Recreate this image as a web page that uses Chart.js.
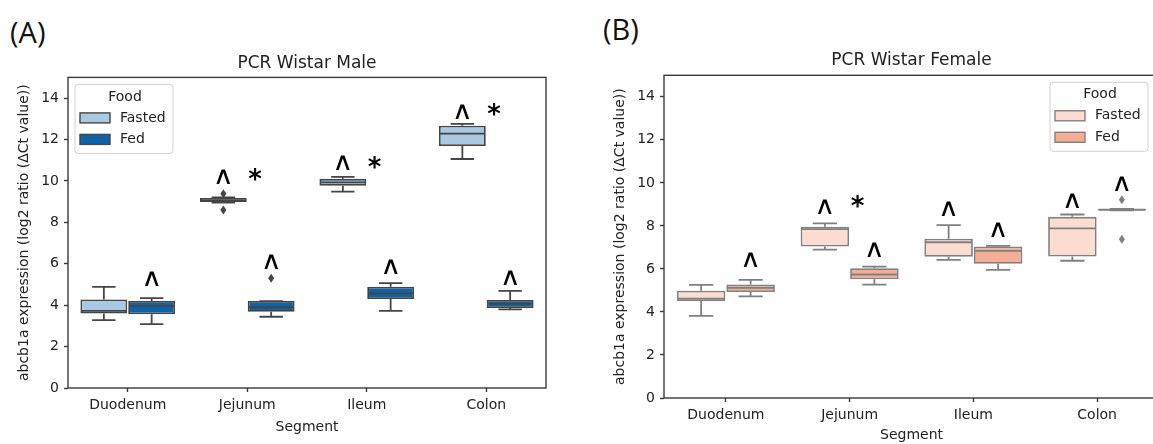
<!DOCTYPE html>
<html>
<head>
<meta charset="utf-8">
<script src="https://cdn.jsdelivr.net/npm/chart.js@4.4.1/dist/chart.umd.min.js"></script>
<style>
  html, body { margin: 0; padding: 0; width: 1153px; height: 444px; overflow: hidden; background: #fff; }
  .panel-label { position: absolute; font-family: 'Open Sans', sans-serif; font-size: 29px; color: #111; line-height: 1; }
  canvas { position: absolute; top: 0; }
</style>
</head>
<body>
<div class="panel-label" style="left:10px;top:17px">(A)</div>
<div class="panel-label" style="left:603px;top:14px">(B)</div>
<canvas id="maleChart" width="576" height="444" style="left:0"></canvas>
<canvas id="femaleChart" width="600" height="444" style="left:576px"></canvas>
<script>
// Категории, группы и деления оси
var segments = ['Duodenum', 'Jejunum', 'Ileum', 'Colon'];
var foodGroups = ['Fasted', 'Fed'];
var yTicks = [0, 2, 4, 6, 8, 10, 12, 14];

// Самцы: [нижний ус, Q1, медиана, Q3, верхний ус]
var maleFasted = [[3.28, 3.6, 3.72, 4.28, 4.88], [8.95, 8.98, 9.06, 9.18, 9.2], [9.48, 9.77, 9.93, 10.1, 10.2], [11.06, 11.69, 12.28, 12.67, 12.76]];
var maleFed = [[3.08, 3.56, 3.97, 4.2, 4.34], [3.44, 3.68, 3.9, 4.2, 4.2], [3.72, 4.3, 4.57, 4.89, 5.06], [3.8, 3.86, 4.06, 4.25, 4.69]];
var maleFastedOut = [[], [9.38, 8.6], [], []];
var maleFedOut = [[], [5.3], [], []];
var maleCaretFasted = [null, 10.2, 10.9, 13.35];
var maleCaretFed = [5.3, 6.1, 5.86, 5.33];
var maleStar = [null, 10.3, 10.9, 13.45];

// Самки
var femaleFasted = [[3.82, 4.51, 4.62, 4.99, 5.26], [6.9, 7.04, 7.85, 7.96, 8.12], [6.42, 6.57, 7.24, 7.4, 8.04], [6.38, 6.58, 7.88, 8.42, 8.53]];
var femaleFed = [[4.72, 4.93, 5.12, 5.27, 5.49], [5.27, 5.52, 5.74, 6.03, 6.11], [5.96, 6.24, 6.84, 7.04, 7.07], [8.72, 8.72, 8.75, 8.79, 8.79]];
var femaleFastedOut = [[], [], [], []];
var femaleFedOut = [[], [], [], [9.21, 7.38]];
var femaleCaretFasted = [null, 8.9, 8.82, 9.2];
var femaleCaretFed = [6.42, 6.88, 7.81, 9.98];
var femaleStar = [null, 9.13, null, null];

var FONT = "'DejaVu Sans', sans-serif";
var TEXT_COLOR = '#222';

// Рисует символ так, чтобы центр глифа совпал с точкой (можно растянуть по ширине)
function drawGlyph(ctx, text, x, y, font, stretch) {
  ctx.save();
  ctx.font = font;
  var m = ctx.measureText(text);
  ctx.textAlign = 'center';
  ctx.textBaseline = 'alphabetic';
  ctx.translate(x, y);
  ctx.scale(stretch || 1, 1);
  ctx.fillText(text, 0, (m.actualBoundingBoxAscent - m.actualBoundingBoxDescent) / 2);
  ctx.restore();
}

// Усы, медианы и выбросы поверх столбиков
var boxPlugin = {
  id: 'boxParts',
  afterDatasetsDraw: function(chart, args, opts) {
    var ctx = chart.ctx;
    var y = chart.scales.y;
    chart.data.datasets.forEach(function(ds, d) {
      var meta = chart.getDatasetMeta(d);
      ds.stats.forEach(function(s, i) {
        var bar = meta.data[i];
        var half = bar.width / 2;
        var yLow = y.getPixelForValue(s[0]);
        var yQ1 = y.getPixelForValue(s[1]);
        var yMed = y.getPixelForValue(s[2]);
        var yQ3 = y.getPixelForValue(s[3]);
        var yHigh = y.getPixelForValue(s[4]);
        ctx.save();
        ctx.strokeStyle = opts.edge;
        ctx.lineWidth = 1.8;
        ctx.beginPath();
        ctx.moveTo(bar.x, yQ1); ctx.lineTo(bar.x, yLow);
        ctx.moveTo(bar.x, yQ3); ctx.lineTo(bar.x, yHigh);
        ctx.moveTo(bar.x - half / 2, yLow); ctx.lineTo(bar.x + half / 2, yLow);
        ctx.moveTo(bar.x - half / 2, yHigh); ctx.lineTo(bar.x + half / 2, yHigh);
        ctx.moveTo(bar.x - half + 1, yMed); ctx.lineTo(bar.x + half - 1, yMed);
        ctx.stroke();
        // Выбросы ромбиками
        ctx.fillStyle = opts.edge;
        ds.outliers[i].forEach(function(v) {
          var py = y.getPixelForValue(v);
          ctx.beginPath();
          ctx.moveTo(bar.x, py - 4.5);
          ctx.lineTo(bar.x + 3, py);
          ctx.lineTo(bar.x, py + 4.5);
          ctx.lineTo(bar.x - 3, py);
          ctx.closePath();
          ctx.fill();
        });
        ctx.restore();
      });
    });
  }
};

// Рамка, значки значимости и легенда
var marksPlugin = {
  id: 'marks',
  afterDraw: function(chart, args, opts) {
    var ctx = chart.ctx;
    var area = chart.chartArea;
    var x = chart.scales.x;
    var y = chart.scales.y;
    ctx.save();
    ctx.strokeStyle = '#3a3a3a';
    ctx.lineWidth = 1.4;
    ctx.strokeRect(area.left, area.top, area.right - area.left, area.bottom - area.top);

    ctx.fillStyle = '#000';
    chart.data.datasets.forEach(function(ds, d) {
      var meta = chart.getDatasetMeta(d);
      ds.carets.forEach(function(v, i) {
        if (v === null) return;
        drawGlyph(ctx, '\u2227', meta.data[i].x, y.getPixelForValue(v), '25px ' + FONT, 1.15);
      });
    });
    var catWidth = x.width / segments.length;
    opts.stars.forEach(function(v, i) {
      if (v === null) return;
      drawGlyph(ctx, '*', x.getPixelForValue(i) + catWidth * 0.065, y.getPixelForValue(v), 'bold 26px ' + FONT, 1);
    });

    // Легенда
    var w = 98, h = 69;
    var left = opts.legendAlign === 'left' ? area.left + 7 : area.right - 11 - w;
    var top = area.top + 7;
    ctx.fillStyle = 'rgba(255,255,255,0.8)';
    ctx.strokeStyle = '#d0d0d0';
    ctx.lineWidth = 1;
    ctx.beginPath();
    ctx.roundRect(left, top, w, h, 3);
    ctx.fill();
    ctx.stroke();
    ctx.fillStyle = TEXT_COLOR;
    ctx.font = '14px ' + FONT;
    ctx.textAlign = 'center';
    ctx.textBaseline = 'middle';
    ctx.fillText('Food', left + 50, top + 12.5);
    chart.data.datasets.forEach(function(ds, d) {
      var cy = top + 33.5 + d * 21.5;
      ctx.fillStyle = ds.backgroundColor;
      ctx.strokeStyle = opts.edge;
      ctx.lineWidth = 1.4;
      ctx.fillRect(left + 5, cy - 5, 30, 10);
      ctx.strokeRect(left + 5, cy - 5, 30, 10);
      ctx.fillStyle = TEXT_COLOR;
      ctx.textAlign = 'left';
      ctx.fillText(ds.label, left + 45, cy);
    });
    ctx.restore();
  }
};

function buildDataset(label, stats, outliers, carets, color, edge) {
  return {
    label: label,
    data: stats.map(function(s) { return [s[1], s[3]]; }),
    stats: stats,
    outliers: outliers,
    carets: carets,
    backgroundColor: color,
    borderColor: edge,
    borderWidth: 1.8,
    borderSkipped: false,
    categoryPercentage: 0.8,
    barPercentage: 0.98
  };
}

// Создание одной панели
function makeChart(canvasId, cfg) {
  var ctx = document.getElementById(canvasId).getContext('2d');
  return new Chart(ctx, {
    type: 'bar',
    data: {
      labels: segments,
      datasets: [
        buildDataset(foodGroups[0], cfg.fasted, cfg.fastedOut, cfg.caretFasted, cfg.colors[0], cfg.edge),
        buildDataset(foodGroups[1], cfg.fed, cfg.fedOut, cfg.caretFed, cfg.colors[1], cfg.edge)
      ]
    },
    options: {
      responsive: false,
      animation: false,
      layout: { padding: { left: 0, right: cfg.padRight, top: 0, bottom: 0 } },
      plugins: {
        legend: { display: false },
        tooltip: { enabled: false },
        title: {
          display: true,
          text: cfg.title,
          fullSize: false,
          color: TEXT_COLOR,
          font: { family: FONT, size: 17, weight: 'normal' },
          padding: { top: cfg.titleTop, bottom: cfg.titleBottom }
        },
        boxParts: { edge: cfg.edge },
        marks: { edge: cfg.edge, stars: cfg.stars, legendAlign: cfg.legendAlign }
      },
      scales: {
        x: {
          border: { display: false },
          grid: { display: true, drawOnChartArea: false, offset: false, tickLength: 4, tickColor: '#3a3a3a', tickWidth: 1.4 },
          ticks: { color: TEXT_COLOR, font: { family: FONT, size: 14 }, padding: 5 },
          title: { display: true, text: 'Segment', color: TEXT_COLOR, font: { family: FONT, size: 14 }, padding: { top: 0, bottom: cfg.xTitleBottom } },
          afterFit: function(s) { s.height = cfg.xHeight; }
        },
        y: {
          min: 0,
          max: 15,
          border: { display: false },
          grid: { display: true, drawOnChartArea: false, tickLength: 4, tickColor: '#3a3a3a', tickWidth: 1.4 },
          ticks: { color: TEXT_COLOR, font: { family: FONT, size: 14 }, padding: 5 },
          afterBuildTicks: function(s) { s.ticks = yTicks.map(function(v) { return { value: v }; }); },
          title: {
            display: true,
            text: 'abcb1a expression (log2 ratio (\u0394Ct value))',
            color: TEXT_COLOR,
            font: { family: FONT, size: 14 },
            padding: { top: cfg.yTitleTop, bottom: 0 }
          },
          afterFit: function(s) { s.width = cfg.yWidth; }
        }
      }
    },
    plugins: [boxPlugin, marksPlugin]
  });
}

makeChart('maleChart', {
  title: 'PCR Wistar Male',
  fasted: maleFasted, fed: maleFed,
  fastedOut: maleFastedOut, fedOut: maleFedOut,
  caretFasted: maleCaretFasted, caretFed: maleCaretFed,
  stars: maleStar,
  colors: ['#a9c8e2', '#0d63a5'],
  edge: '#454545',
  legendAlign: 'left',
  padRight: 30, yWidth: 68, xHeight: 56,
  titleTop: 53, titleBottom: 4,
  xTitleBottom: 8.6, yTitleTop: 15.6
});

makeChart('femaleChart', {
  title: 'PCR Wistar Female',
  fasted: femaleFasted, fed: femaleFed,
  fastedOut: femaleFastedOut, fedOut: femaleFedOut,
  caretFasted: femaleCaretFasted, caretFed: femaleCaretFed,
  stars: femaleStar,
  colors: ['#fddcd1', '#f4ae95'],
  edge: '#808080',
  legendAlign: 'right',
  padRight: 17, yWidth: 88, xHeight: 46,
  titleTop: 50.8, titleBottom: 4.1,
  xTitleBottom: 0, yTitleTop: 35.6
});
</script>
</body>
</html>
